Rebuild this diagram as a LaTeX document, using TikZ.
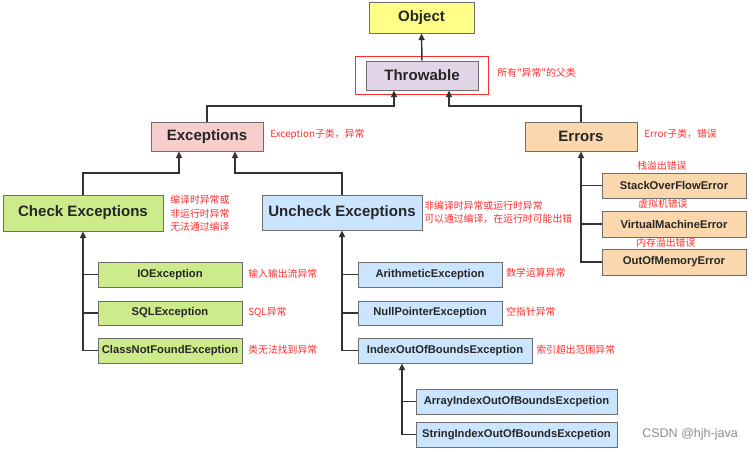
\documentclass[tikz,border=0pt]{standalone}
\usepackage{fontspec}
\setmainfont{Liberation Sans}
\newfontfamily\cjk{Noto Sans CJK SC}
\usepackage{xcolor}
\usetikzlibrary{arrows.meta,fit}

\definecolor{objfill}{HTML}{FFFF88}
\definecolor{thrfill}{HTML}{E1D5E7}
\definecolor{excfill}{HTML}{F8CECC}
\definecolor{errfill}{HTML}{FAD7AC}
\definecolor{chkfill}{HTML}{CDEB8B}
\definecolor{uncfill}{HTML}{CCE5FF}
\definecolor{boxline}{HTML}{6E6E6E}
\definecolor{wire}{HTML}{333333}
\definecolor{note}{HTML}{FF2D2D}

\tikzset{
  cls/.style 2 args={draw=boxline, line width=0.6pt, inner sep=0pt,
    minimum width=#1*0.75pt, minimum height=#2*0.75pt,
    text=black!85, font=\bfseries\fontsize{11.3}{13}\selectfont},
  sub/.style={font=\bfseries\fontsize{8.4}{10}\selectfont},
  arr/.style={draw=wire, line width=1.1pt, -{Triangle[length=5pt,width=4.5pt]}},
  wirel/.style={draw=wire, line width=1.1pt},
  remark/.style={anchor=west, inner sep=0pt, text=note, align=left,
    font=\cjk\fontsize{7.4}{10}\selectfont}
}

\begin{document}
\begin{tikzpicture}[x=0.75pt, y=-0.75pt]
\useasboundingbox (0,0) rectangle (753,451);

% top of the tree
\node (obj) at (421.5, 17.5) [cls={105}{31}, fill=objfill] {Object};
\node (thr) at (422, 75.5) [cls={112}{29}, fill=thrfill] {Throwable};
\node (thrmark) [draw=note, line width=1pt, fit=(thr), inner xsep=7.5pt, inner ysep=3.2pt] {};
\node (exc) at (207, 136.5) [cls={112}{29}, fill=excfill] {Exceptions};
\node (err) at (581, 136.5) [cls={112}{29}, fill=errfill] {Errors};

% checked / unchecked
\node (chk) at (83, 213) [cls={160}{36}, fill=chkfill] {Check Exceptions};
\node (unc) at (342, 212.5) [cls={160}{35}, fill=uncfill] {Uncheck Exceptions};

\node (ioe) at (170, 274.5) [cls={144}{25}, sub, fill=chkfill] {IOException};
\node (sql) at (170, 313) [cls={144}{24}, sub, fill=chkfill] {SQLException};
\node (cnf) at (170, 350.5) [cls={144}{25}, sub, fill=chkfill] {ClassNotFoundException};

\node (ari) at (430, 274.5) [cls={144}{25}, sub, fill=uncfill] {ArithmeticException};
\node (npe) at (430, 313) [cls={144}{24}, sub, fill=uncfill] {NullPointerException};
\node (idx) at (445, 350.5) [cls={174}{25}, sub, fill=uncfill] {IndexOutOfBoundsException};
\node (aie) at (516.5, 401.5) [cls={201}{25}, sub, fill=uncfill] {ArrayIndexOutOfBoundsExcpetion};
\node (sie) at (516.5, 434.5) [cls={201}{25}, sub, fill=uncfill] {StringIndexOutOfBoundsExcpetion};

% errors
\node (soe) at (674, 185.5) [cls={144}{25}, sub, fill=errfill] {StackOverFlowError};
\node (vme) at (674, 224) [cls={144}{26}, sub, fill=errfill] {VirtualMachineError};
\node (ooe) at (674, 262) [cls={144}{26}, sub, fill=errfill] {OutOfMemoryError};

% joints
\coordinate (tl) at (394, 106);
\coordinate (tr) at (449, 106);
\coordinate (el) at (179, 173);
\coordinate (er) at (235, 173);
\coordinate (it) at (402, 0);

\draw[arr] (thr.north) -- (obj.south);
\draw[arr] (exc.north) |- (tl) -- (tl |- thr.south);
\draw[arr] (err.north) |- (tr) -- (tr |- thr.south);
\draw[arr] (chk.north) |- (el) -- (el |- exc.south);
\draw[arr] (unc.north) |- (er) -- (er |- exc.south);

\draw[arr] (cnf.west) -| (chk.south);
\draw[wirel] (ioe.west) -- (ioe.west -| chk.south);
\draw[wirel] (sql.west) -- (sql.west -| chk.south);

\draw[arr] (idx.west) -| (unc.south);
\draw[wirel] (ari.west) -- (ari.west -| unc.south);
\draw[wirel] (npe.west) -- (npe.west -| unc.south);

\draw[arr] (sie.west) -| (it |- idx.south);
\draw[wirel] (aie.west) -- (aie.west -| it);

\draw[arr] (ooe.west) -| (err.south);
\draw[wirel] (soe.west) -- (soe.west -| err.south);
\draw[wirel] (vme.west) -- (vme.west -| err.south);

% red remarks
\node (nthr) at (497, 73) [remark] {所有"异常"的父类};
\node (nexc) at (270, 134) [remark] {Exception子类，异常};
\node (nerr) at (644, 134) [remark] {Error子类，错误};
\node (nchk) at (170, 213.5) [remark] {编译时异常或\\非运行时异常\\无法通过编译};
\node (nunc) at (424, 212.5) [remark] {非编译时异常或运行时异常\\可以通过编译，在运行时可能出错};
\node (nioe) at (248, 274) [remark] {输入输出流异常};
\node (nsql) at (248, 312) [remark] {SQL异常};
\node (ncnf) at (248, 350) [remark] {类无法找到异常};
\node (nari) at (506, 273) [remark] {数学运算异常};
\node (nnpe) at (506, 312) [remark] {空指针异常};
\node (nidx) at (536, 350) [remark] {索引超出范围异常};
\node (nsoe) at (637, 166) [remark] {栈溢出错误};
\node (nvme) at (638, 204) [remark] {虚拟机错误};
\node (nooe) at (636, 243) [remark] {内存溢出错误};

\node (mark) at (642, 434) [anchor=west, inner sep=0pt, text=black!45, font=\fontsize{9.4}{11}\selectfont] {CSDN @hjh-java};
\end{tikzpicture}
\end{document}
